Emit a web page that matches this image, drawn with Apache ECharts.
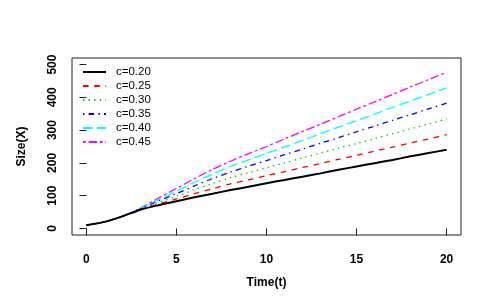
<!DOCTYPE html>
<html>
<head>
<meta charset="utf-8">
<script src="https://cdn.jsdelivr.net/npm/echarts@6/dist/echarts.min.js"></script>
<style>
html,body{margin:0;padding:0;background:#fff;}
#chart{width:491px;height:307px;}
</style>
</head>
<body>
<div id="chart"></div>
<script>
var times = [0,1,2,3,4,5,6,7,8,9,10,11,12,13,14,15,16,17,18,19,20];
var seriesNames = ['c=0.20','c=0.25','c=0.30','c=0.35','c=0.40','c=0.45'];
var c020 = [10,20,37,57,71,83,95,106,117,127,138,148,158,168,179,189,199,209,220,230,240];
var c025 = [10,20,37,58,75,90,106,121,136,148,161,173,186,198,211,223,236,248,261,273,286];
var c030 = [10,20,37,59,79,98,118,137,155,170,185,200,215,230,245,259,274,289,304,319,334];
var c035 = [10,20,37,60,84,106,130,152,172,190,207,225,242,260,277,295,312,330,347,365,382];
var c040 = [10,20,37,61,88,114,141,166,189,209,229,249,269,289,309,329,349,369,389,409,429];
var c045 = [10,20,37,62,93,122,152,180,205,228,250,273,296,318,341,364,386,409,432,454,477];
var xTicks = [0,5,10,15,20];
var yTicks = [0,100,200,300,400,500];

var colors = ['#000000','#ff0000','#00cd00','#0000ff','#00ffff','#ff00ff'];
var dashes = ['solid',[5.6,5.6],[1.4,4.2],[1.4,4.2,5.6,4.2],[9.8,4.2],[2.8,2.8,8.4,2.8]];
var widths = [2,1.3,1.3,1.3,1.3,1.3];
var allData = [c020,c025,c030,c035,c040,c045];

var series = allData.map(function(vals, i){
  return {
    name: seriesNames[i],
    type: 'line',
    symbol: 'none',
    smooth: 0.3,
    data: times.map(function(t, j){ return [t, vals[j]]; }),
    lineStyle: {color: colors[i], width: widths[i], type: dashes[i]},
    itemStyle: {color: colors[i]},
    z: 10 - i
  };
});

var chart = echarts.init(document.getElementById('chart'), null, {renderer:'canvas'});
chart.setOption({
  animation: false,
  backgroundColor: '#ffffff',
  grid: {left:72, right:30, top:58, bottom:72, show:true, borderColor:'#222', borderWidth:1, backgroundColor:'transparent'},
  legend: {
    orient: 'vertical',
    left: 82, top: 66,
    padding: 0,
    itemWidth: 23, itemHeight: 14, itemGap: 2,
    itemStyle: {color:'rgba(0,0,0,0)', borderWidth:0, opacity:0},
    data: seriesNames,
    textStyle: {fontFamily:'Liberation Sans, Arial, sans-serif', fontSize:11.5, color:'#000', padding:[0,0,0,5]},
    selectedMode: false
  },
  xAxis: {
    type:'value', min:-0.8, max:20.8,
    name:'Time(t)', nameLocation:'middle', nameGap:42,
    nameTextStyle:{fontFamily:'Liberation Sans, Arial, sans-serif', fontSize:12, fontWeight:'bold', color:'#000'},
    axisLine:{show:false},
    splitLine:{show:false},
    axisTick:{show:true, customValues:xTicks, length:7, inside:false, lineStyle:{color:'#222'}},
    axisLabel:{customValues:xTicks, margin:19, fontFamily:'Liberation Sans, Arial, sans-serif', fontSize:12, fontWeight:'bold', color:'#000'}
  },
  yAxis: {
    type:'value', min:-20, max:520,
    name:'Size(X)', nameLocation:'middle', nameGap:44, nameRotate:90,
    nameTextStyle:{fontFamily:'Liberation Sans, Arial, sans-serif', fontSize:12, fontWeight:'bold', color:'#000'},
    axisLine:{show:false},
    splitLine:{show:false},
    axisTick:{show:true, customValues:yTicks, length:7, inside:false, lineStyle:{color:'#222'}},
    axisLabel:{customValues:yTicks, rotate:90, margin:13, fontFamily:'Liberation Sans, Arial, sans-serif', fontSize:12, fontWeight:'bold', color:'#000'}
  },
  series: series
});
</script>
</body>
</html>
